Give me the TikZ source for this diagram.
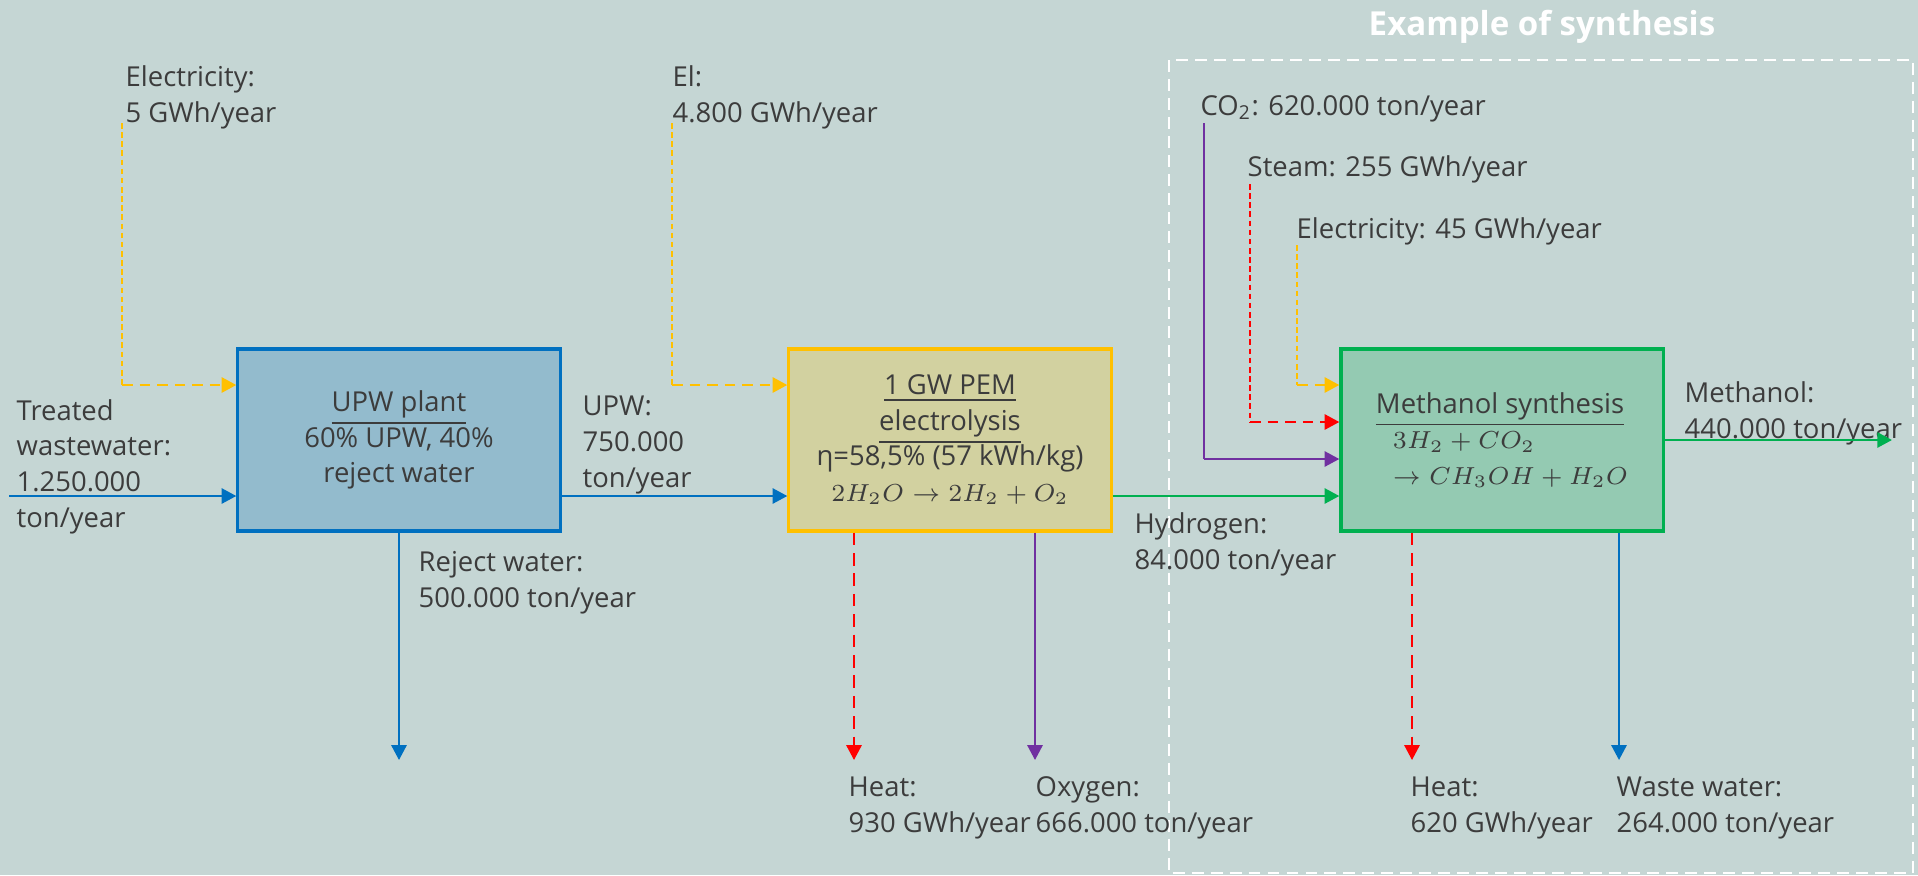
\documentclass[tikz,border=0pt]{standalone}
\usepackage{fontspec}
\setmainfont{Open Sans}
\usetikzlibrary{arrows.meta, positioning}

\definecolor{bgcol}{RGB}{197,214,212}
\definecolor{txtcol}{RGB}{60,60,60}
\definecolor{wblue}{RGB}{0,112,192}
\definecolor{upwfill}{RGB}{147,187,205}
\definecolor{elorange}{RGB}{255,192,0}
\definecolor{pemfill}{RGB}{210,209,160}
\definecolor{hgreen}{RGB}{0,176,80}
\definecolor{methfill}{RGB}{148,202,178}
\definecolor{heatred}{RGB}{255,0,0}
\definecolor{gpurple}{RGB}{112,48,160}

\newcommand{\eqn}[1]{{\fontsize{7}{10.1}\selectfont$#1$}}

\begin{document}
\begin{tikzpicture}[
    x=0.01cm, y=-0.01cm,
    every node/.style={font=\fontsize{7.8}{10.1}\selectfont, text=txtcol},
    unit/.style={rectangle, line width=0.9pt, minimum width=3.22cm, minimum height=1.82cm, align=center, inner sep=0pt},
    lbl/.style={anchor=base west, align=left, inner sep=0pt},
    flow/.style={line width=0.75pt, -{Triangle[length=4.2pt,width=4.3pt]}},
    feedline/.style={line width=0.35pt, dash pattern=on 1.6pt off 1pt},
    feedin/.style={line width=0.8pt, dash pattern=on 3pt off 2pt, -{Triangle[length=4.2pt,width=4.3pt]}},
    heatout/.style={line width=0.6pt, dash pattern=on 3.6pt off 2.2pt, -{Triangle[length=4.2pt,width=4.3pt]}}
]

    % --- Background and frame ---
    \fill[bgcol] (0,0) rectangle (1918,875);
    \useasboundingbox (0,0) rectangle (1918,875);
    \draw[white, line width=0.6pt, dash pattern=on 3.4pt off 2pt] (1169,60) rectangle (1913,873);
    \node[font=\bfseries\fontsize{9.4}{11}\selectfont, text=white, anchor=base] (title) at (1542,35) {Example of synthesis};

    % --- Process units ---
    \node[unit, draw=wblue, fill=upwfill] (upw) at (399,440) {\underline{UPW plant}\\60\% UPW, 40\%\\reject water};
    \node[unit, draw=elorange, fill=pemfill] (pem) at (950,440) {\underline{1 GW PEM}\\\underline{electrolysis}\\η=58,5\% (57 kWh/kg)\\\eqn{2H_2O \rightarrow 2H_2 + O_2}};
    \node[unit, draw=hgreen, fill=methfill, align=left] (meth) at (1502,440) {\underline{Methanol synthesis}\\\hspace*{0.17cm}\eqn{3H_2 + CO_2}\\\hspace*{0.17cm}\eqn{\rightarrow CH_3OH + H_2O}};

    % --- Labels (anchored at the baseline of the last line) ---
    \node[lbl] (elUpwLbl) at (125,122) {Electricity:\\5 GWh/year};
    \node[lbl] (twLbl) at (16,527) {Treated\\wastewater:\\1.250.000\\ton/year};
    \node[lbl] (upwLbl) at (582,487) {UPW:\\750.000\\ton/year};
    \node[lbl] (rejLbl) at (418,607) {Reject water:\\500.000 ton/year};
    \node[lbl] (elPemLbl) at (672,122) {El:\\4.800 GWh/year};
    \node[lbl] (h2Lbl) at (1134,569) {Hydrogen:\\84.000 ton/year};
    \node[lbl] (heatPemLbl) at (848,832) {Heat:\\930 GWh/year};
    \node[lbl] (o2Lbl) at (1035,832) {Oxygen:\\666.000 ton/year};
    \node[lbl] (co2Lbl) at (1200,115) {CO\textsubscript{2}: 620.000 ton/year};
    \node[lbl] (steamLbl) at (1247,176) {Steam: 255 GWh/year};
    \node[lbl] (elMethLbl) at (1296,238) {Electricity: 45 GWh/year};
    \node[lbl] (methLbl) at (1684,438) {Methanol:\\440.000 ton/year};
    \node[lbl] (heatMethLbl) at (1410,832) {Heat:\\620 GWh/year};
    \node[lbl] (wwLbl) at (1616,832) {Waste water:\\264.000 ton/year};

    % --- Connector end points ---
    \coordinate (e1a) at (122,123);  \coordinate (e1b) at (122,385);
    \coordinate (e2a) at (672,123);  \coordinate (e2b) at (672,385);
    \coordinate (c1a) at (1204,123); \coordinate (c1b) at (1204,459);
    \coordinate (s1a) at (1250,184); \coordinate (s1b) at (1250,422);
    \coordinate (e3a) at (1297,245); \coordinate (e3b) at (1297,385);
    \coordinate (twIn) at (9,496);
    \coordinate (rejOut) at (399,760);
    \coordinate (heatPemOut) at (854,760);
    \coordinate (o2Out) at (1035,760);
    \coordinate (heatMethOut) at (1412,760);
    \coordinate (wwOut) at (1619,760);
    \coordinate (methOut) at (1892,440);

    % --- Inputs ---
    \draw[feedline, elorange] (e1a) -- (e1b);
    \draw[feedin, elorange] (e1b) -- (e1b -| upw.west);
    \draw[feedline, elorange] (e2a) -- (e2b);
    \draw[feedin, elorange] (e2b) -- (e2b -| pem.west);
    \draw[line width=0.45pt, gpurple] (c1a) -- (c1b);
    \draw[flow, gpurple] (c1b) -- (c1b -| meth.west);
    \draw[feedline, heatred] (s1a) -- (s1b);
    \draw[feedin, heatred] (s1b) -- (s1b -| meth.west);
    \draw[feedline, elorange] (e3a) -- (e3b);
    \draw[feedin, elorange] (e3b) -- (e3b -| meth.west);

    % --- Main flows ---
    \draw[flow, wblue] (twIn) -- (twIn -| upw.west);
    \draw[flow, wblue] (upw.east |- twIn) -- (pem.west |- twIn);
    \draw[flow, hgreen] (pem.east |- twIn) -- (meth.west |- twIn);
    \draw[flow, hgreen] (meth.east) -- (methOut);

    % --- Outputs ---
    \draw[flow, wblue, line width=0.6pt] (upw.south) -- (rejOut);
    \draw[heatout, heatred] (heatPemOut |- pem.south) -- (heatPemOut);
    \draw[flow, gpurple, line width=0.6pt] (o2Out |- pem.south) -- (o2Out);
    \draw[heatout, heatred] (heatMethOut |- meth.south) -- (heatMethOut);
    \draw[flow, wblue, line width=0.6pt] (wwOut |- meth.south) -- (wwOut);

\end{tikzpicture}
\end{document}
